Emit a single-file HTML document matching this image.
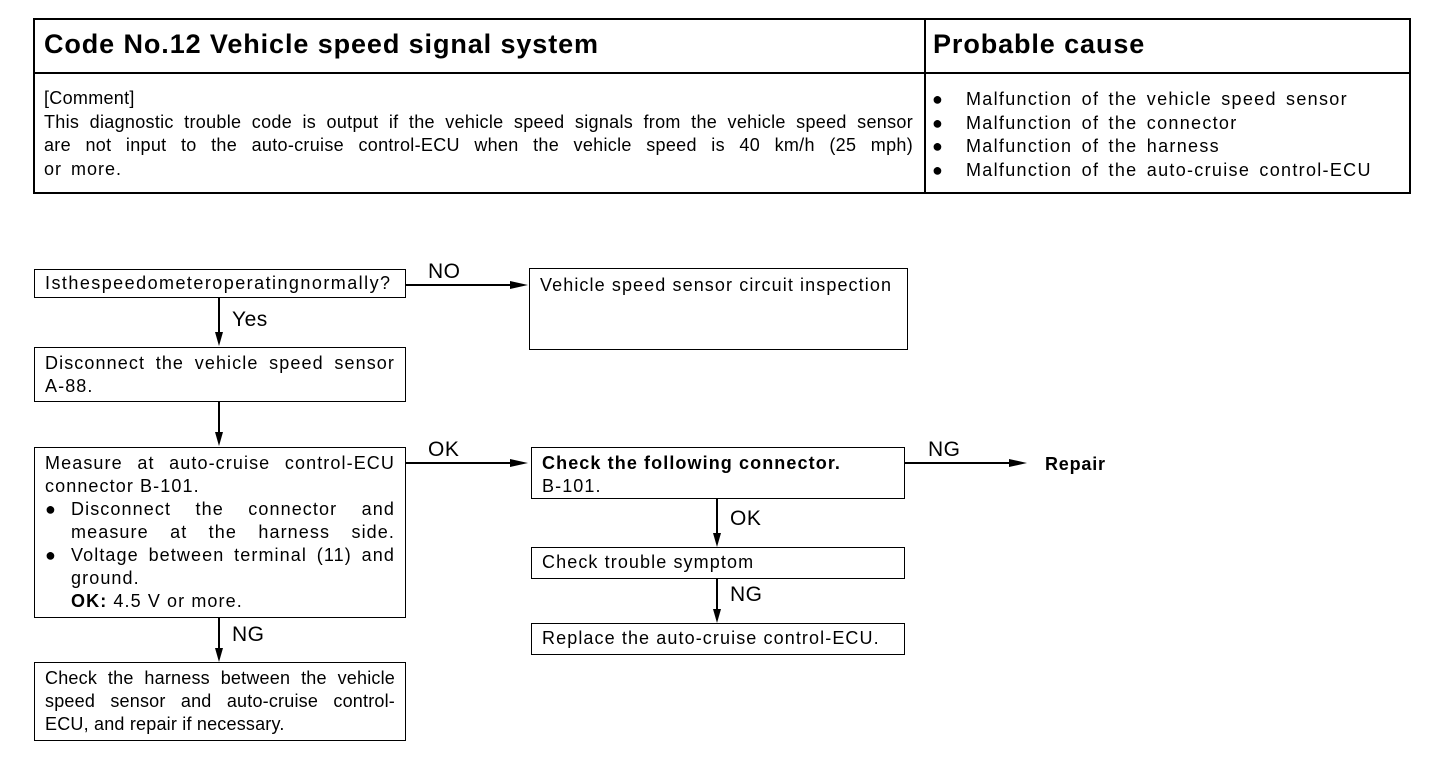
<!DOCTYPE html>
<html><head><meta charset="utf-8"><style>
body{margin:0;width:1456px;height:764px;background:#fff;position:relative;font-family:"Liberation Sans",Arial,sans-serif;color:#000;overflow:hidden}
.a{position:absolute}
.b{position:absolute;border:1.5px solid #000;box-sizing:border-box;font-size:18px;line-height:23px;padding:2px 10px;letter-spacing:1.1px;white-space:nowrap}
.j{display:block;text-align:justify;text-align-last:justify;white-space:normal}
.t{position:absolute;font-size:21px;letter-spacing:0.5px}
.vl{position:absolute;width:1.5px;background:#000}
.hl{position:absolute;height:1.5px;background:#000}
.ad{position:absolute;width:0;height:0;border-left:4px solid transparent;border-right:4px solid transparent;border-top:14px solid #000}
.ar{position:absolute;width:0;height:0;border-top:4px solid transparent;border-bottom:4px solid transparent;border-left:18px solid #000}
.row{display:flex}
.row .bu{width:26px;flex:none;letter-spacing:0}
.row .tx{flex:1}
</style></head><body>
<div class="a" style="left:33px;top:18px;width:1378px;height:176px;border:2px solid #000;box-sizing:border-box"></div>
<div class="hl" style="left:33px;top:72px;width:1378px;height:2px"></div>
<div class="vl" style="left:924px;top:18px;height:176px"></div>
<div class="a" style="left:44px;top:29px;font-size:27px;font-weight:bold;letter-spacing:0.9px;white-space:nowrap">Code No.12 Vehicle speed signal system</div>
<div class="a" style="left:933px;top:29px;font-size:27px;font-weight:bold;letter-spacing:0.9px;white-space:nowrap">Probable cause</div>
<div class="a" style="left:44px;top:87px;width:869px;font-size:18px;line-height:23.5px;letter-spacing:0.3px">
<span class="j" style="text-align-last:left">[Comment]</span>
<span class="j">This diagnostic trouble code is output if the vehicle speed signals from the vehicle speed sensor</span>
<span class="j">are not input to the auto-cruise control-ECU when the vehicle speed is 40 km/h (25 mph)</span>
<span style="display:block;letter-spacing:1px;word-spacing:3px">or more.</span></div>
<div class="a" style="left:932px;top:88px;font-size:18px;line-height:23.5px;letter-spacing:1.3px;word-spacing:3px;white-space:nowrap">
<div><span style="display:inline-block;width:34px;letter-spacing:0">●</span>Malfunction of the vehicle speed sensor</div>
<div><span style="display:inline-block;width:34px;letter-spacing:0">●</span>Malfunction of the connector</div>
<div><span style="display:inline-block;width:34px;letter-spacing:0">●</span>Malfunction of the harness</div>
<div><span style="display:inline-block;width:34px;letter-spacing:0">●</span>Malfunction of the auto-cruise control-ECU</div></div>

<div class="b" style="left:34px;top:269px;width:372px;height:29px;padding-top:2px;letter-spacing:1.45px">Isthespeedometeroperatingnormally?</div>
<div class="b" style="left:529px;top:268px;width:379px;height:82px;padding-top:5px">Vehicle speed sensor circuit inspection</div>
<div class="b" style="left:34px;top:347px;width:372px;height:55px;padding-top:4px"><span class="j">Disconnect the vehicle speed sensor</span>A-88.</div>
<div class="b" style="left:34px;top:447px;width:372px;height:171px;padding-top:4px">
<span class="j">Measure at auto-cruise control-ECU</span>connector B-101.
<div class="row"><span class="bu">●</span><span class="tx"><span class="j">Disconnect the connector and</span><span class="j">measure at the harness side.</span></span></div>
<div class="row"><span class="bu">●</span><span class="tx"><span class="j">Voltage between terminal (11) and</span>ground.<br><b>OK:</b> 4.5 V or more.</span></div></div>
<div class="b" style="left:34px;top:662px;width:372px;height:79px;padding-top:4px;letter-spacing:0.2px"><span class="j">Check the harness between the vehicle</span><span class="j">speed sensor and auto-cruise control-</span>ECU, and repair if necessary.</div>
<div class="b" style="left:531px;top:447px;width:374px;height:52px;padding-top:4px"><b>Check the following connector.</b><br>B-101.</div>
<div class="b" style="left:531px;top:547px;width:374px;height:32px;padding-top:3px">Check trouble symptom</div>
<div class="b" style="left:531px;top:623px;width:374px;height:32px;padding-top:3px">Replace the auto-cruise control-ECU.</div>

<div class="hl" style="left:406px;top:284px;width:106px"></div><div class="ar" style="left:510px;top:281px"></div>
<div class="t" style="left:428px;top:260px">NO</div>
<div class="hl" style="left:406px;top:462px;width:106px"></div><div class="ar" style="left:510px;top:459px"></div>
<div class="t" style="left:428px;top:438px">OK</div>
<div class="hl" style="left:905px;top:462px;width:106px"></div><div class="ar" style="left:1009px;top:459px"></div>
<div class="t" style="left:928px;top:438px">NG</div>
<div class="a" style="left:1045px;top:454px;font-size:18px;font-weight:bold;letter-spacing:0.8px">Repair</div>

<div class="vl" style="left:218px;top:298px;height:36px"></div><div class="ad" style="left:215px;top:332px"></div>
<div class="t" style="left:232px;top:308px">Yes</div>
<div class="vl" style="left:218px;top:402px;height:32px"></div><div class="ad" style="left:215px;top:432px"></div>
<div class="vl" style="left:218px;top:618px;height:32px"></div><div class="ad" style="left:215px;top:648px"></div>
<div class="t" style="left:232px;top:623px">NG</div>
<div class="vl" style="left:716px;top:499px;height:36px"></div><div class="ad" style="left:713px;top:533px"></div>
<div class="t" style="left:730px;top:507px">OK</div>
<div class="vl" style="left:716px;top:579px;height:32px"></div><div class="ad" style="left:713px;top:609px"></div>
<div class="t" style="left:730px;top:583px">NG</div>
</body></html>
